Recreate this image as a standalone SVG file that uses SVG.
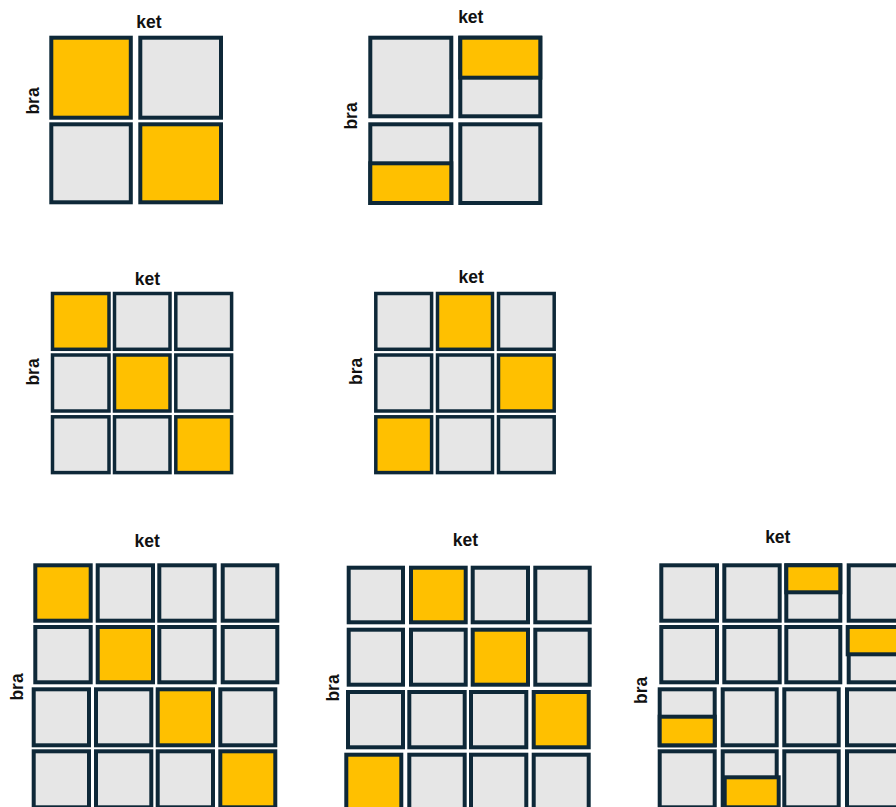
<svg xmlns="http://www.w3.org/2000/svg" width="896" height="807" viewBox="0 0 896 807">
<style>
.g{fill:#E6E6E6;stroke:#0E2838;stroke-width:4}
.y{fill:#FFC000;stroke:#0E2838;stroke-width:4}
.m .g,.m .y{stroke-width:3.5}
.lbl{font-family:"Liberation Sans",Arial,sans-serif;font-weight:bold;font-size:17.5px;fill:#111;text-anchor:middle}
</style>
<rect width="896" height="807" fill="#fff"/>

<g id="grid1">
<text class="lbl" x="149" y="27.5">ket</text>
<text class="lbl" transform="translate(39.3,101) rotate(-90)">bra</text>
<rect class="y" x="51.3" y="37.7" width="79.5" height="80"/>
<rect class="g" x="140.3" y="37.7" width="80.7" height="80"/>
<rect class="g" x="51.3" y="124.3" width="79.5" height="78"/>
<rect class="y" x="140.3" y="124.3" width="80.7" height="78"/>
</g>

<g id="grid2">
<text class="lbl" x="470.8" y="23.3">ket</text>
<text class="lbl" transform="translate(356.7,116) rotate(-90)">bra</text>
<rect class="g" x="370.3" y="37.7" width="81" height="78.6"/>
<rect class="g" x="460.3" y="37.7" width="80" height="78.6"/>
<rect class="y" x="460.3" y="37.7" width="80" height="40"/>
<rect class="g" x="370.3" y="124.3" width="81" height="78.7"/>
<rect class="y" x="370.3" y="163.3" width="81" height="39.7"/>
<rect class="g" x="460.3" y="124.3" width="80" height="78.7"/>
</g>

<g id="grid3" class="m">
<text class="lbl" x="147.5" y="284.5">ket</text>
<text class="lbl" transform="translate(39.3,372) rotate(-90)">bra</text>
<rect class="y" x="52.5" y="293.5" width="56.5" height="55.8"/>
<rect class="g" x="114.5" y="293.5" width="55.5" height="55.8"/>
<rect class="g" x="175.8" y="293.5" width="55.8" height="55.8"/>
<rect class="g" x="52.5" y="355" width="56.5" height="56"/>
<rect class="y" x="114.5" y="355" width="55.5" height="56"/>
<rect class="g" x="175.8" y="355" width="55.8" height="56"/>
<rect class="g" x="52.5" y="416.8" width="56.5" height="55.8"/>
<rect class="g" x="114.5" y="416.8" width="55.5" height="55.8"/>
<rect class="y" x="175.8" y="416.8" width="55.8" height="55.8"/>
</g>

<g id="grid4" class="m">
<text class="lbl" x="471.2" y="283.3">ket</text>
<text class="lbl" transform="translate(361.7,371.3) rotate(-90)">bra</text>
<rect class="g" x="375.8" y="293.5" width="55.8" height="55.8"/>
<rect class="y" x="437.5" y="293.5" width="55" height="55.8"/>
<rect class="g" x="498.5" y="293.5" width="55.7" height="55.8"/>
<rect class="g" x="375.8" y="355" width="55.8" height="56"/>
<rect class="g" x="437.5" y="355" width="55" height="56"/>
<rect class="y" x="498.5" y="355" width="55.7" height="56"/>
<rect class="y" x="375.8" y="416.8" width="55.8" height="55.8"/>
<rect class="g" x="437.5" y="416.8" width="55" height="55.8"/>
<rect class="g" x="498.5" y="416.8" width="55.7" height="55.8"/>
</g>

<g id="grid5">
<text class="lbl" x="147.2" y="546.5">ket</text>
<text class="lbl" transform="translate(22.7,687) rotate(-90)">bra</text>
<rect class="y" x="35.3" y="565.3" width="55.4" height="55.4"/>
<rect class="g" x="97.7" y="565.3" width="55.3" height="55.4"/>
<rect class="g" x="159.3" y="565.3" width="55.4" height="55.4"/>
<rect class="g" x="222.7" y="565.3" width="54.6" height="55.4"/>
<rect class="g" x="35.3" y="627" width="55.4" height="55.3"/>
<rect class="y" x="97.7" y="627" width="55.3" height="55.3"/>
<rect class="g" x="159.3" y="627" width="55.4" height="55.3"/>
<rect class="g" x="222.7" y="627" width="54.6" height="55.3"/>
<rect class="g" x="33.7" y="689.3" width="55.3" height="56"/>
<rect class="g" x="96" y="689.3" width="55.3" height="56"/>
<rect class="y" x="157.7" y="689.3" width="55.3" height="56"/>
<rect class="g" x="220.3" y="689.3" width="55" height="56"/>
<rect class="g" x="33.7" y="751.3" width="55.3" height="56"/>
<rect class="g" x="96" y="751.3" width="55.3" height="56"/>
<rect class="g" x="157.7" y="751.3" width="55.3" height="56"/>
<rect class="y" x="220.3" y="751.3" width="55" height="56"/>
</g>

<g id="grid6">
<text class="lbl" x="465.5" y="545.5">ket</text>
<text class="lbl" transform="translate(339,688) rotate(-90)">bra</text>
<rect class="g" x="348.7" y="567.7" width="54.3" height="54.6"/>
<rect class="y" x="411" y="567.7" width="54.7" height="54.6"/>
<rect class="g" x="472.7" y="567.7" width="55.3" height="54.6"/>
<rect class="g" x="535.3" y="567.7" width="54.4" height="54.6"/>
<rect class="g" x="348.7" y="629.7" width="54.3" height="55"/>
<rect class="g" x="411" y="629.7" width="54.7" height="55"/>
<rect class="y" x="472.7" y="629.7" width="55.3" height="55"/>
<rect class="g" x="535.3" y="629.7" width="54.4" height="55"/>
<rect class="g" x="348" y="692" width="55" height="55.3"/>
<rect class="g" x="409.3" y="692" width="55.4" height="55.3"/>
<rect class="g" x="471" y="692" width="55.3" height="55.3"/>
<rect class="y" x="533.7" y="692" width="55" height="55.3"/>
<rect class="y" x="346.3" y="754.7" width="55" height="56"/>
<rect class="g" x="409.3" y="754.7" width="55.4" height="56"/>
<rect class="g" x="471" y="754.7" width="55.3" height="56"/>
<rect class="g" x="533.7" y="754.7" width="55" height="56"/>
</g>

<g id="grid7">
<text class="lbl" x="777.8" y="543.3">ket</text>
<text class="lbl" transform="translate(646.7,690.3) rotate(-90)">bra</text>
<rect class="g" x="661.3" y="565.3" width="55.7" height="55.4"/>
<rect class="g" x="724.3" y="565.3" width="55.4" height="55.4"/>
<rect class="g" x="786.3" y="565.3" width="54" height="55.4"/>
<rect class="y" x="786.3" y="565.3" width="54" height="27"/>
<rect class="g" x="848.7" y="565.3" width="56" height="55.4"/>
<rect class="g" x="661.3" y="627" width="55.7" height="55.3"/>
<rect class="g" x="724.3" y="627" width="55.4" height="55.3"/>
<rect class="g" x="786.3" y="627" width="54" height="55.3"/>
<rect class="g" x="848.7" y="627" width="56" height="55.3"/>
<rect class="y" x="847.7" y="627" width="57" height="27.3"/>
<rect class="g" x="659.7" y="689.3" width="55" height="56"/>
<rect class="y" x="659.7" y="716.7" width="55" height="28.6"/>
<rect class="g" x="722.7" y="689.3" width="54" height="56"/>
<rect class="g" x="784.3" y="689.3" width="54.4" height="56"/>
<rect class="g" x="847" y="689.3" width="56" height="56"/>
<rect class="g" x="659.7" y="751.3" width="55" height="56"/>
<rect class="g" x="722.7" y="751.3" width="54" height="56"/>
<rect class="y" x="724.7" y="777.3" width="54" height="30"/>
<rect class="g" x="784.3" y="751.3" width="54.4" height="56"/>
<rect class="g" x="847" y="751.3" width="56" height="56"/>
</g>
</svg>
